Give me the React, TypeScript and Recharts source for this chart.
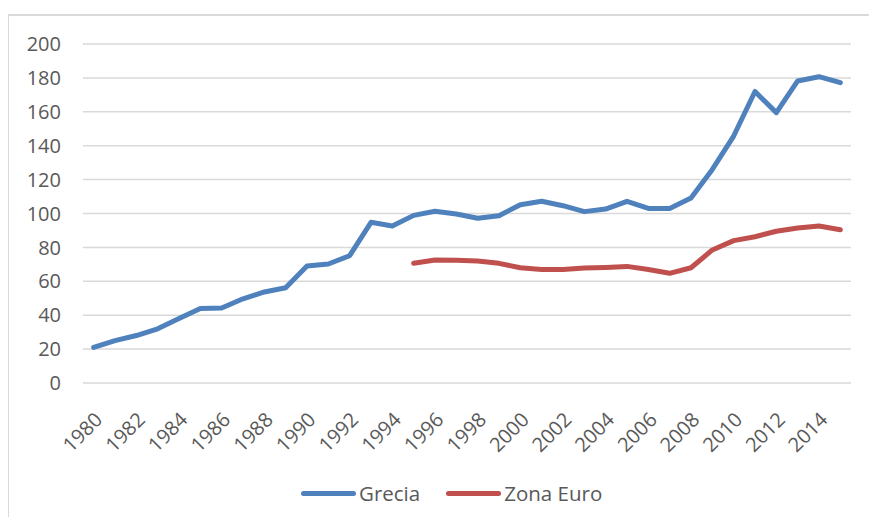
import React from "react";
import {
  Line,
  XAxis,
  YAxis,
  Legend,
  LineChart,
  CartesianGrid,
} from "recharts";

const years = [
  "1980", "1981", "1982", "1983", "1984", "1985", "1986", "1987", "1988",
  "1989", "1990", "1991", "1992", "1993", "1994", "1995", "1996", "1997",
  "1998", "1999", "2000", "2001", "2002", "2003", "2004", "2005", "2006",
  "2007", "2008", "2009", "2010", "2011", "2012", "2013", "2014", "2015",
];

const grecia = [
  21, 25, 28, 32, 38, 44, 44.2, 49.7, 53.7, 56.2, 69, 70.2, 75.1, 94.8, 92.6,
  98.9, 101.3, 99.7, 97.2, 98.7, 105.2, 107.2, 104.6, 101.1, 102.6, 107.2, 103,
  103, 109.1, 126, 145.7, 172, 159.5, 178.2, 180.7, 177.2,
];

const zonaEuro = [
  null, null, null, null, null, null, null, null, null, null, null, null, null,
  null, null, 70.6, 72.6, 72.4, 72, 70.6, 68, 67, 66.9, 67.8, 68.2, 68.8, 67,
  64.7, 68, 78.5, 84, 86.3, 89.5, 91.4, 92.6, 90.4,
];

const yTicks = [0, 20, 40, 60, 80, 100, 120, 140, 160, 180, 200];

const data = years.map((year, i) => ({
  year,
  grecia: grecia[i],
  zonaEuro: zonaEuro[i],
}));

const FONT = "'Open Sans', sans-serif";
const TEXT = "#595959";

const XTick = (props: any) => {
  const { x, y, payload } = props;
  const tx = x + 5;
  const ty = y + 33;
  return (
    <text
      x={tx}
      y={ty}
      dy="0.35em"
      textAnchor="end"
      transform={`rotate(-45, ${tx}, ${ty})`}
      fill={TEXT}
      fontSize={20}
      fontFamily={FONT}
    >
      {payload.value}
    </text>
  );
};

const renderLegend = (props: any) => {
  const items = props.payload || [];
  return (
    <div
      style={{
        display: "flex",
        alignItems: "center",
        height: 30,
        paddingLeft: 301,
        fontFamily: FONT,
        fontSize: 20.5,
        color: TEXT,
      }}
    >
      {items.map((entry: any) => (
        <div
          key={entry.value}
          style={{ display: "flex", alignItems: "center", marginRight: 26 }}
        >
          <span
            style={{
              display: "inline-block",
              width: 55,
              height: 5,
              borderRadius: 3,
              background: entry.color,
              marginRight: 3,
            }}
          />
          <span>{entry.value}</span>
        </div>
      ))}
    </div>
  );
};

const App = () => {
  return (
    <div
      style={{
        position: "relative",
        margin: -8,
        width: 877,
        height: 525,
        overflow: "hidden",
        background: "#fff",
      }}
    >
      <div
        style={{
          position: "absolute",
          left: 7,
          top: 14,
          width: 900,
          height: 600,
          borderTop: "2px solid #dadada",
          borderLeft: "2px solid #dadada",
        }}
      />
      <div style={{ position: "absolute", left: 0, top: 0 }}>
        <LineChart
          width={877}
          height={525}
          data={data}
          margin={{ top: 44, right: 26, bottom: 17, left: 0 }}
        >
          <CartesianGrid
            vertical={false}
            stroke="#d9d9d9"
            strokeWidth={1.5}
          />
          <XAxis
            dataKey="year"
            interval={1}
            axisLine={false}
            tickLine={false}
            tickSize={0}
            tickMargin={0}
            height={95}
            padding={{ left: 10.67, right: 10.67 }}
            tick={<XTick />}
          />
          <YAxis
            domain={[0, 200]}
            ticks={yTicks}
            width={83}
            axisLine={false}
            tickLine={false}
            tickSize={0}
            tickMargin={22}
            tick={{ fill: TEXT, fontSize: 20, fontFamily: FONT }}
          />
          <Legend
            verticalAlign="bottom"
            wrapperStyle={{ left: 0, width: 877 }}
            content={renderLegend}
          />
          <Line
            type="linear"
            dataKey="grecia"
            name="Grecia"
            stroke="#4f81bd"
            strokeWidth={5}
            strokeLinecap="round"
            strokeLinejoin="round"
            dot={false}
            activeDot={false}
            isAnimationActive={false}
          />
          <Line
            type="linear"
            dataKey="zonaEuro"
            name="Zona Euro"
            stroke="#c0504d"
            strokeWidth={5}
            strokeLinecap="round"
            strokeLinejoin="round"
            dot={false}
            activeDot={false}
            isAnimationActive={false}
          />
        </LineChart>
      </div>
    </div>
  );
};

export default App;
